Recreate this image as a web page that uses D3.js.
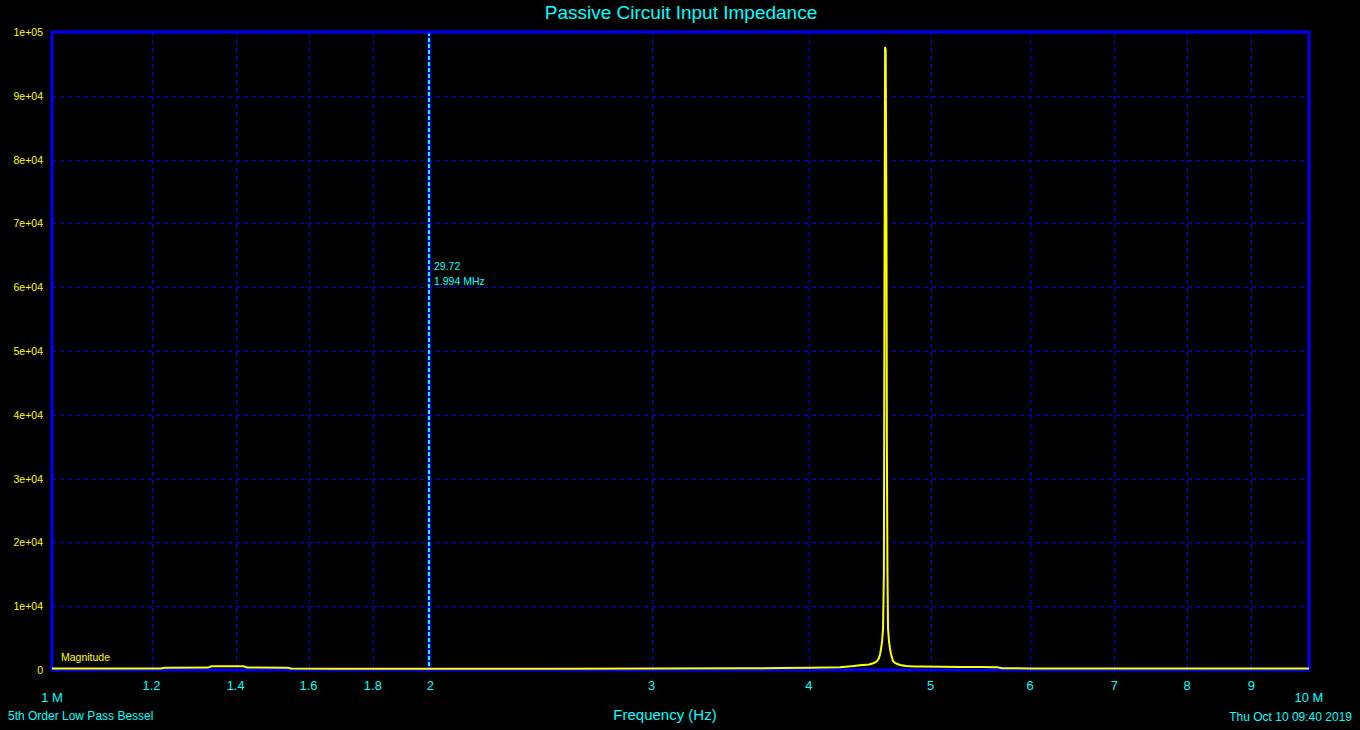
<!DOCTYPE html>
<html><head><meta charset="utf-8">
<script src="https://cdn.jsdelivr.net/npm/d3@7"></script>
<style>
html,body{margin:0;padding:0;background:#000;}
svg{display:block;font-family:"Liberation Sans",Arial,sans-serif;}
</style></head>
<body>
<svg id="c" width="1360" height="730"></svg>
<script>
// Frequency in MHz and impedance magnitude (ohms)
const freqMHz = [1.0, 1.1, 1.22, 1.23, 1.33, 1.34, 1.42, 1.43, 1.54, 1.55, 1.7, 1.994, 2.5, 3.0, 3.5, 3.8, 4.0, 4.236, 4.345, 4.41, 4.467, 4.508, 4.533, 4.549, 4.558, 4.566, 4.575, 4.583, 4.59, 4.594, 4.6, 4.605, 4.612, 4.615, 4.62, 4.625, 4.633, 4.642, 4.65, 4.667, 4.684, 4.727, 4.779, 4.85, 4.921, 5.096, 5.278, 5.5, 5.65, 5.7, 6.0, 7.0, 8.0, 10.0];
const magnitude = [60, 70, 80, 200, 220, 420, 420, 230, 200, 70, 50, 29.72, 40, 60, 100, 150, 200, 270, 470, 630, 700, 940, 1250, 1720, 2350, 3130, 4400, 6300, 15000, 52000, 97500, 97000, 67000, 36000, 15000, 6300, 4400, 3130, 2350, 1250, 940, 630, 470, 400, 380, 350, 320, 300, 280, 110, 90, 80, 70, 70];
const xTicks = [1.2, 1.4, 1.6, 1.8, 2, 3, 4, 5, 6, 7, 8, 9];
const xTickLabels = ["1.2", "1.4", "1.6", "1.8", "2", "3", "4", "5", "6", "7", "8", "9"];
const yTicks = [0, 10000, 20000, 30000, 40000, 50000, 60000, 70000, 80000, 90000, 100000];
const yTickLabels = ["0", "1e+04", "2e+04", "3e+04", "4e+04", "5e+04", "6e+04", "7e+04", "8e+04", "9e+04", "1e+05"];
const cursorFreq = 1.994;
const cursorLabel = ["29.72", "1.994 MHz"];

const svg = d3.select("#c");
const L = 52, R = 1309, T = 32, B = 670;
const x = d3.scaleLog().domain([1, 10]).range([L, R]);
const y = d3.scaleLinear().domain([0, 100000]).range([B, T]);
const cyan = "#00ffff", yellow = "#ffff00", blue = "#0000ff";

svg.append("rect").attr("width", 1360).attr("height", 730).attr("fill", "#000");

// title
svg.append("text").attr("x", 681).attr("y", 19).attr("text-anchor", "middle")
  .attr("fill", cyan).attr("font-size", 19).text("Passive Circuit Input Impedance");

// grid
const g = svg.append("g");
g.selectAll("line.vx").data(xTicks).join("line")
  .attr("x1", d => Math.round(x(d)) + 0.5).attr("x2", d => Math.round(x(d)) + 0.5)
  .attr("y1", T).attr("y2", B)
  .attr("stroke", blue).attr("stroke-width", 1).attr("stroke-dasharray", "4,4");
g.selectAll("line.hy").data(yTicks.slice(1, -1)).join("line")
  .attr("x1", L).attr("x2", R)
  .attr("y1", d => Math.round(y(d)) + 0.5).attr("y2", d => Math.round(y(d)) + 0.5)
  .attr("stroke", blue).attr("stroke-width", 1).attr("stroke-dasharray", "4,4");

// cursor
const cx = Math.round(x(cursorFreq));
svg.append("line").attr("x1", cx).attr("x2", cx).attr("y1", T).attr("y2", B)
  .attr("stroke", blue).attr("stroke-width", 3);
svg.append("line").attr("x1", cx).attr("x2", cx).attr("y1", T).attr("y2", B)
  .attr("stroke", cyan).attr("stroke-width", 2).attr("stroke-dasharray", "4,2");
svg.append("text").attr("x", cx + 5).attr("y", 270).attr("fill", cyan).attr("font-size", 10.5).text(cursorLabel[0]);
svg.append("text").attr("x", cx + 5).attr("y", 285).attr("fill", cyan).attr("font-size", 10.5).text(cursorLabel[1]);

// frame
svg.append("rect").attr("x", L).attr("y", T).attr("width", R - L).attr("height", B - T)
  .attr("fill", "none").attr("stroke", blue).attr("stroke-width", 3);

// data line
const pts = freqMHz.map((f, i) => [f, magnitude[i]]);
svg.append("path").datum(pts)
  .attr("d", d3.line().x(d => x(d[0])).y(d => y(d[1]) - 1))
  .attr("fill", "none").attr("stroke", yellow).attr("stroke-width", 2);

// y labels
svg.selectAll("text.yl").data(yTicks).join("text")
  .attr("x", 43).attr("y", d => y(d) + 4).attr("text-anchor", "end")
  .attr("fill", yellow).attr("font-size", 10.5).text((d, i) => yTickLabels[i]);

// x labels
svg.selectAll("text.xl").data(xTicks).join("text")
  .attr("x", d => x(d)).attr("y", 690).attr("text-anchor", "middle")
  .attr("fill", cyan).attr("font-size", 13).text((d, i) => xTickLabels[i]);
svg.append("text").attr("x", x(1)).attr("y", 702).attr("text-anchor", "middle")
  .attr("fill", cyan).attr("font-size", 13).text("1 M");
svg.append("text").attr("x", x(10)).attr("y", 702).attr("text-anchor", "middle")
  .attr("fill", cyan).attr("font-size", 13).text("10 M");

svg.append("text").attr("x", 665).attr("y", 720).attr("text-anchor", "middle")
  .attr("fill", cyan).attr("font-size", 15).text("Frequency (Hz)");
svg.append("text").attr("x", 8).attr("y", 720).attr("fill", cyan).attr("font-size", 12).text("5th Order Low Pass Bessel");
svg.append("text").attr("x", 1352).attr("y", 721).attr("text-anchor", "end")
  .attr("fill", cyan).attr("font-size", 12).text("Thu Oct 10 09:40 2019");

svg.append("text").attr("x", 61).attr("y", 661).attr("fill", yellow).attr("font-size", 10.5).text("Magnitude");
</script>
</body></html>
